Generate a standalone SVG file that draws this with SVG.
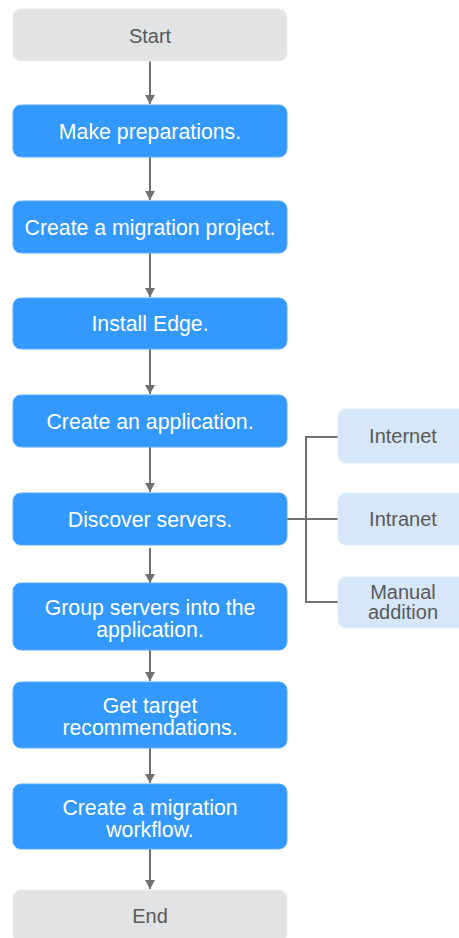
<svg xmlns="http://www.w3.org/2000/svg" width="459" height="938" viewBox="0 0 459 938">
<style>
.b{fill:#3399FF;stroke:#5AAEFF;stroke-width:1}
.g{fill:#E1E3E5;stroke:#EBEDEE;stroke-width:1}
.l{fill:#D5E7F9;stroke:#E3EFFB;stroke-width:1}
text{font-family:"Liberation Sans",Arial,sans-serif;font-size:20px;text-anchor:middle}
.tw{fill:#FFFFFF;font-size:21.3px}
.tg{fill:#595959}
.c{stroke:#707070;stroke-width:2;fill:none}
</style>
<defs>
<marker id="ah" markerWidth="10" markerHeight="10" refX="9" refY="5" orient="auto" markerUnits="userSpaceOnUse">
<path d="M0,0 L9,5 L0,10 Z" fill="#707070"/>
</marker>
</defs>
<g id="connectors">
<line class="c" x1="150" y1="61" x2="150" y2="104" marker-end="url(#ah)"/>
<line class="c" x1="150" y1="157" x2="150" y2="200" marker-end="url(#ah)"/>
<line class="c" x1="150" y1="253" x2="150" y2="297" marker-end="url(#ah)"/>
<line class="c" x1="150" y1="349" x2="150" y2="394" marker-end="url(#ah)"/>
<line class="c" x1="150" y1="447" x2="150" y2="492" marker-end="url(#ah)"/>
<line class="c" x1="150" y1="548" x2="150" y2="583" marker-end="url(#ah)"/>
<line class="c" x1="150" y1="650" x2="150" y2="681" marker-end="url(#ah)"/>
<line class="c" x1="150" y1="748" x2="150" y2="783" marker-end="url(#ah)"/>
<line class="c" x1="150" y1="849" x2="150" y2="889" marker-end="url(#ah)"/>
<polyline class="c" points="338,437 306,437 306,602 338,602"/>
<line class="c" x1="287" y1="519" x2="338" y2="519"/>
</g>
<g id="start"><rect class="g" x="13" y="9" width="274" height="52" rx="8"/><text class="tg" x="150" y="43">Start</text></g>
<g id="prep"><rect class="b" x="13" y="105" width="274" height="52" rx="8"/><text class="tw" x="150" y="139">Make preparations.</text></g>
<g id="project"><rect class="b" x="13" y="201" width="274" height="52" rx="8"/><text class="tw" x="150" y="235">Create a migration project.</text></g>
<g id="edge"><rect class="b" x="13" y="298" width="274" height="51" rx="8"/><text class="tw" x="150" y="331">Install Edge.</text></g>
<g id="app"><rect class="b" x="13" y="395" width="274" height="52" rx="8"/><text class="tw" x="150" y="429">Create an application.</text></g>
<g id="discover"><rect class="b" x="13" y="493" width="274" height="52" rx="8"/><text class="tw" x="150" y="527">Discover servers.</text></g>
<g id="group"><rect class="b" x="13" y="583" width="274" height="67" rx="8"/><text class="tw" x="150" y="615">Group servers into the</text><text class="tw" x="150" y="637">application.</text></g>
<g id="target"><rect class="b" x="13" y="682" width="274" height="66" rx="8"/><text class="tw" x="150" y="713">Get target</text><text class="tw" x="150" y="735">recommendations.</text></g>
<g id="workflow"><rect class="b" x="13" y="784" width="274" height="65" rx="8"/><text class="tw" x="150" y="815">Create a migration</text><text class="tw" x="150" y="837">workflow.</text></g>
<g id="end"><rect class="g" x="13" y="890" width="274" height="52" rx="8"/><text class="tg" x="150" y="923">End</text></g>
<g id="internet"><rect class="l" x="338" y="409" width="130" height="54" rx="8"/><text class="tg" x="403" y="443">Internet</text></g>
<g id="intranet"><rect class="l" x="338" y="493" width="130" height="52" rx="8"/><text class="tg" x="403" y="526">Intranet</text></g>
<g id="manual"><rect class="l" x="338" y="577" width="130" height="51" rx="8"/><text class="tg" x="403" y="599">Manual</text><text class="tg" x="403" y="619">addition</text></g>
</svg>
